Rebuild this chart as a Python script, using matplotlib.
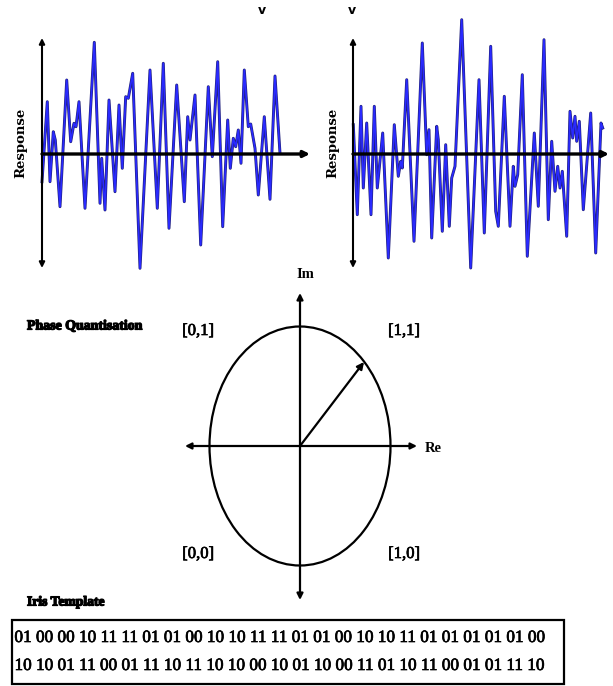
import matplotlib
matplotlib.use("Agg")
import matplotlib.pyplot as plt
import matplotlib.patheffects as pe
from matplotlib.patches import Ellipse, Rectangle

# left filter response (position along the axis, response value)
left_pos = [0, 5.3, 8, 11.3, 13.3, 18, 24.7, 28.7, 32, 34,
            37, 43, 52.3, 58, 59.7, 63, 67, 73, 77, 80.3,
            83.7, 86.3, 90.7, 98, 108, 115.3, 121.3, 127, 134.7, 142.3,
            145.7, 148, 153, 158.7, 166.3, 170.3, 175.7, 180.7, 185.7, 188.3,
            191.3, 193.7, 196.3, 199, 202.3, 206.3, 208.7, 213, 216.3, 222.3,
            228, 233, 238]
left_resp = [-27.7, 52.3, -27.7, 22.3, 14, -52.7, 74, 12.3, 30.7, 27.3,
             52.3, -54.3, 111.7, -49.3, -4.3, -56, 54, -37.7, 49, -14.3,
             57.3, 55.7, 80.7, -114.3, 84, -54.3, 90.7, -74.3, 69, -47.7,
             37.3, 14, 59, -91, 67.3, -2.7, 92.3, -72.7, 34, -14.3,
             15.7, 7.3, 24, -9.3, 84, 27.3, 30, 5.7, -41, 37.3,
             -45.3, 78, 0.7]

# right filter response
right_pos = [0.3, 4.3, 8, 10.3, 13.7, 18, 21.3, 24.3, 29.7, 35.3,
             41.3, 45.3, 47.7, 49.3, 53.7, 61, 69.3, 73.7, 76, 78.7,
             83.7, 85.3, 89.3, 92.7, 96.3, 98.7, 102, 108.7, 117.7, 126,
             131.3, 137.7, 142.7, 145.3, 151.3, 157, 160.3, 162, 164.7, 169.3,
             174.3, 181.3, 185.3, 191, 195.3, 198.7, 202, 204.7, 207, 209.3,
             213.7, 217, 219.7, 222, 223.7, 226.3, 230.3, 237.7, 242.7, 248,
             249.7]
right_resp = [29.3, -60.7, 47.7, -34, 31, -60.7, 47.7, -34, 21, -104,
              29.3, -22.3, -7.3, -14, 74.3, -87.3, 111, -0.7, 24.3, -84,
              27.7, 14.3, -77.3, 9.3, -72.3, -24, -12.3, 134.3, -114, 74.3,
              -79, 107.7, -57.3, -72.3, 57.7, -72.3, -12.3, -32.3, -20.7, 79.3,
              -102.3, 21, -52.3, 114.3, -65.7, 12.7, -37.3, -12.3, -34, -17.3,
              -82.3, 42.7, 16, 37.7, 12.7, 32.7, -55.7, 41, -99, 31,
              26]

quadrant_labels = ["[0,1]", "[1,1]", "[0,0]", "[1,0]"]
template_rows = [
    "01 00 00 10 11 11 01 01 00 10 10 11 11 01 01 00 10 10 11 01 01 01 01 01 00",
    "10 10 01 11 00 01 11 10 11 10 10 00 10 01 10 00 11 01 10 11 00 01 01 11 10",
]

W, H = 613, 686
fig = plt.figure(figsize=(W / 100, H / 100), dpi=100)

# base layer in pixel coordinates
ax = fig.add_axes([0, 0, 1, 1])
ax.set_xlim(0, W)
ax.set_ylim(H, 0)
ax.axis("off")


def sig_axes(x0, x1, y0, y1):
    a = fig.add_axes([x0 / W, 1 - y1 / H, (x1 - x0) / W, (y1 - y0) / H])
    a.set_xlim(0, x1 - x0)
    a.set_ylim(-(y1 - 154), 154 - y0)
    a.axis("off")
    return a


def arrow(a, p0, p1, style, lw=1.8, ms=9, z=3):
    a.annotate("", xy=p1, xytext=p0,
               arrowprops=dict(arrowstyle=style, color="black", lw=lw,
                               mutation_scale=ms, shrinkA=0, shrinkB=0),
               zorder=z, annotation_clip=False)


# the two response plots
for (x0, x1), pos, resp in [((42, 310), left_pos, left_resp),
                            ((353, 609), right_pos, right_resp)]:
    a = sig_axes(x0, x1, 38, 268)
    a.plot(pos, resp, color="#20207a", lw=2.1, clip_on=False, zorder=1,
           solid_joinstyle="round")
    a.plot(pos, resp, color="#2a2aff", lw=1.2, clip_on=False, zorder=2,
           solid_joinstyle="round")
    arrow(a, (0, -114), (0, 116), "<|-|>", lw=1.5, ms=8)
    arrow(a, (0, 0), (x1 - x0, 0), "-|>", lw=2.4, ms=9)

resp_font = dict(family="DejaVu Serif", weight="bold", fontsize=9.5,
                 rotation=90, ha="center", va="center")
ax.text(21, 143, "Response", **resp_font)
ax.text(333, 143, "Response", **resp_font)
ax.text(262, 11, "v", family="DejaVu Sans", weight="bold", fontsize=9,
        ha="center", va="center")
ax.text(352, 10, "v", family="DejaVu Sans", weight="bold", fontsize=9,
        ha="center", va="center")

# phase quantisation diagram
cx, cy = 300, 446
ax.add_patch(Ellipse((cx, cy), 181, 239, fill=False, lw=1.6, color="black"))
arrow(ax, (185, cy), (417, cy), "<|-|>", lw=1.6, ms=9)
arrow(ax, (cx, 600), (cx, 293), "<|-|>", lw=1.6, ms=9)
arrow(ax, (cx, cy), (364, 362), "-|>", lw=1.6, ms=10)

serif = "Liberation Serif"
semi = [pe.withStroke(linewidth=0.5, foreground="black")]
for lab, (lx, ly) in zip(quadrant_labels,
                         [(198, 331), (404, 331), (198, 554), (404, 554)]):
    ax.text(lx, ly, lab, family=serif, fontsize=12, ha="center", va="center",
            path_effects=semi)
ax.text(433, 448, "Re", family=serif, weight="bold", fontsize=10.5,
        ha="center", va="center")
ax.text(305, 275, "Im", family=serif, weight="bold", fontsize=10.5,
        ha="center", va="center")

heavy = [pe.withStroke(linewidth=0.9, foreground="black")]
ax.text(27, 326, "Phase Quantisation", family=serif, weight="bold",
        fontsize=10, ha="left", va="center", path_effects=heavy)
ax.text(27, 602, "Iris Template", family=serif, weight="bold",
        fontsize=9.8, ha="left", va="center", path_effects=heavy)

# iris template box
ax.add_patch(Rectangle((12, 620), 552, 64, fill=False, lw=1.6,
                       edgecolor="black"))
for row, ty in zip(template_rows, [638, 666]):
    ax.text(281, ty, row, family=serif, fontsize=12.4, ha="center",
            va="center", path_effects=semi)

fig.savefig("out.png", dpi=100, facecolor="white")
